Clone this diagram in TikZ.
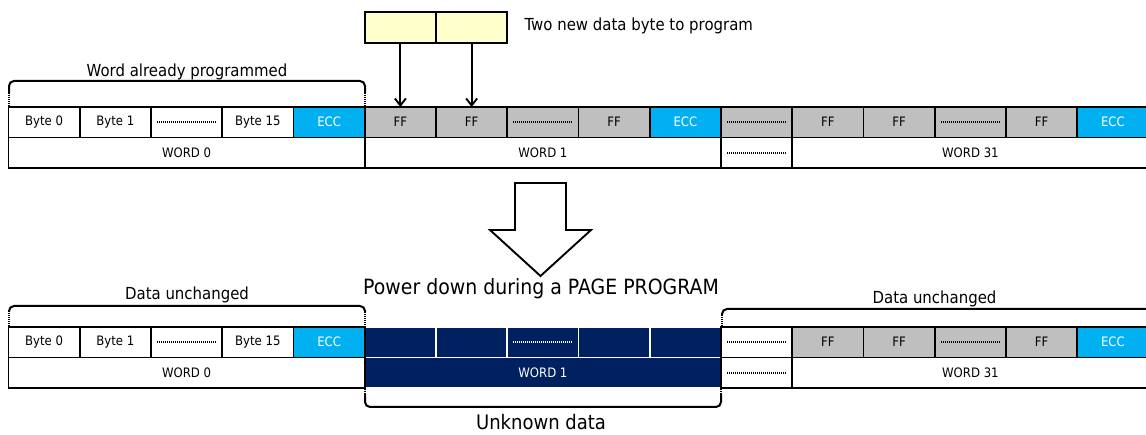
\documentclass[tikz,border=0pt]{standalone}
\usepackage{fontspec}
\setmainfont{DejaVu Sans}[FakeStretch=0.9]
\usetikzlibrary{arrows.meta}
\definecolor{eccblue}{HTML}{00B0F0}
\definecolor{ffgray}{HTML}{BFBFBF}
\definecolor{navy}{HTML}{002060}
\definecolor{newbyte}{HTML}{FFFFCC}

\begin{document}
\begin{tikzpicture}[x=1pt,y=-1pt,
  cell/.style={draw, line width=1.9pt, minimum width=71.25pt, minimum height=30.5pt,
    inner sep=0pt, outer sep=0pt, font=\fontsize{13}{15}\selectfont},
  ff/.style={cell, fill=ffgray},
  ecc/.style={cell, fill=eccblue, text=white},
  lost/.style={cell, draw=white, line width=1.6pt, fill=navy, text=white},
  wide/.style={minimum width=356.25pt},
  dots/.style={line width=1.8pt, dash pattern=on 1pt off 1pt},
  brace/.style={line width=2pt, rounded corners=5pt},
  lbl/.style={anchor=base, font=\fontsize{16.6}{19}\selectfont},
  big/.style={anchor=base, font=\fontsize{21}{24}\selectfont}]

\useasboundingbox (0,0) rectangle (1146,435);

% New data bytes

\node[cell, fill=newbyte] (nb1) at (400.375,27.5) {};
\node[cell, fill=newbyte] (nb2) at (471.625,27.5) {};
\node[lbl, anchor=base west] (newtxt) at (521,31) {Two new data byte to program};

% Page before the power down

\node[cell] (b0) at (44.125,122.25) {Byte 0};
\node[cell] (b1) at (115.375,122.25) {Byte 1};
\node[cell] (bd) at (186.625,122.25) {};
\node[cell] (b15) at (257.875,122.25) {Byte 15};
\node[ecc] (e0) at (329.125,122.25) {ECC};
\node[ff] (f1a) at (400.375,122.25) {FF};
\node[ff] (f1b) at (471.625,122.25) {FF};
\node[ff] (f1d) at (542.875,122.25) {};
\node[ff] (f1c) at (614.125,122.25) {FF};
\node[ecc] (e1) at (685.375,122.25) {ECC};
\node[ff] (gd) at (756.625,122.25) {};
\node[ff] (f31a) at (827.875,122.25) {FF};
\node[ff] (f31b) at (899.125,122.25) {FF};
\node[ff] (f31d) at (970.375,122.25) {};
\node[ff] (f31c) at (1041.625,122.25) {FF};
\node[ecc] (e31) at (1112.875,122.25) {ECC};

\node[cell, wide] (w0) at (186.625,152.75) {WORD 0};
\node[cell, wide] (w1) at (542.875,152.75) {WORD 1};
\node[cell] (wd) at (756.625,152.75) {};
\node[cell, wide] (w31) at (970.375,152.75) {WORD 31};

\draw[dots] ([xshift=6pt]bd.west) -- ([xshift=-6pt]bd.east);
\draw[dots] ([xshift=6pt]f1d.west) -- ([xshift=-6pt]f1d.east);
\draw[dots] ([xshift=6pt]gd.west) -- ([xshift=-6pt]gd.east);
\draw[dots] ([xshift=6pt]f31d.west) -- ([xshift=-6pt]f31d.east);
\draw[dots] ([xshift=6pt]wd.west) -- ([xshift=-6pt]wd.east);

\draw[-{Straight Barb[length=7pt,width=11pt]}, line width=1.9pt] (nb1) -- (f1a);
\draw[-{Straight Barb[length=7pt,width=11pt]}, line width=1.9pt] (nb2) -- (f1b);

\draw[dots, line width=2pt] (9,106) -- (9,93) (365,93) -- (365,106);
\draw[brace] (9,93) -- (9,81) -- (365,81) -- (365,93);
\node[lbl] (done) at (187,76.5) {Word already programmed};

% Big arrow

\draw[line width=1.9pt, fill=white] (515,183) -- (566,183) -- (566,230) -- (591,230)
  -- (540.5,276) -- (490,230) -- (515,230) -- cycle;

\node[big] (pwr) at (541,295) {Power down during a PAGE PROGRAM};

% Page after the power down

\node[lost] (l1a) at (400.375,342.25) {};
\node[lost] (l1b) at (471.625,342.25) {};
\node[lost] (l1d) at (542.875,342.25) {};
\node[lost] (l1c) at (614.125,342.25) {};
\node[lost] (le1) at (685.375,342.25) {};
\node[lost, wide] (lw1) at (542.875,372.75) {WORD 1};
\draw[dots, draw=white] ([xshift=6pt]l1d.west) -- ([xshift=-6pt]l1d.east);

\node[cell] (pb0) at (44.125,342.25) {Byte 0};
\node[cell] (pb1) at (115.375,342.25) {Byte 1};
\node[cell] (pbd) at (186.625,342.25) {};
\node[cell] (pb15) at (257.875,342.25) {Byte 15};
\node[ecc] (pe0) at (329.125,342.25) {ECC};
\node[cell] (pgd) at (756.625,342.25) {};
\node[ff] (p31a) at (827.875,342.25) {FF};
\node[ff] (p31b) at (899.125,342.25) {FF};
\node[ff] (p31d) at (970.375,342.25) {};
\node[ff] (p31c) at (1041.625,342.25) {FF};
\node[ecc] (pe31) at (1112.875,342.25) {ECC};

\node[cell, wide] (pw0) at (186.625,372.75) {WORD 0};
\node[cell] (pwd) at (756.625,372.75) {};
\node[cell, wide] (pw31) at (970.375,372.75) {WORD 31};

\draw[dots] ([xshift=6pt]pbd.west) -- ([xshift=-6pt]pbd.east);
\draw[dots] ([xshift=6pt]pgd.west) -- ([xshift=-6pt]pgd.east);
\draw[dots] ([xshift=6pt]p31d.west) -- ([xshift=-6pt]p31d.east);
\draw[dots] ([xshift=6pt]pwd.west) -- ([xshift=-6pt]pwd.east);

% Brackets

\draw[dots, line width=2pt] (9,326) -- (9,312) (365,312) -- (365,326);
\draw[brace] (9,312) -- (9,306) -- (365,306) -- (365,312);
\node[lbl] (keep0) at (187,300) {Data unchanged};

\draw[dots, line width=2pt] (722,326) -- (722,315);
\draw[brace] (722,315) -- (722,309) -- (1160,309);
\node[lbl] (keep31) at (934.5,304) {Data unchanged};

\draw[dots, line width=2pt] (365,389) -- (365,394) (721,389) -- (721,394);
\draw[brace] (365,394) -- (365,407) -- (721,407) -- (721,394);
\node[big, font=\fontsize{20}{24}\selectfont] (unk) at (541,430) {Unknown data};

\end{tikzpicture}
\end{document}
